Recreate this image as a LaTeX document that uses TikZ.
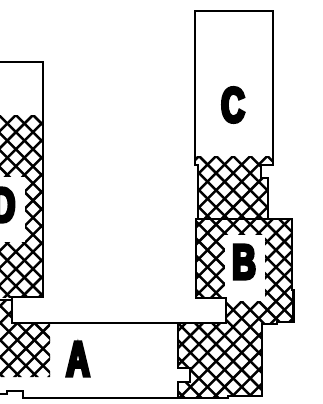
\documentclass[tikz,border=0pt]{standalone}
\usepackage{fontspec}
\newfontfamily\blk[FakeBold=6.5,FakeStretch=0.66]{Liberation Sans Bold}
\tikzset{
  x=0.75pt,y=-0.75pt,
  outline/.style={line width=2.1pt,line join=miter,line cap=rect},
  hatchline/.style={line width=1.9pt},
  letter/.style={inner sep=0pt,font=\blk\fontsize{37}{37}\selectfont}
}
% #1,#2: a lattice crossing; the lines fill the current clip
\newcommand{\hatchfrom}[2]{%
  \foreach \k in {-30,...,30}{%
    \draw[hatchline] ({#1+\k*17.1-450},{#2-450}) -- ({#1+\k*17.1+450},{#2+450});
    \draw[hatchline] ({#1+\k*17.1+450},{#2-450}) -- ({#1+\k*17.1-450},{#2+450});
  }}
\begin{document}
\begin{tikzpicture}
\useasboundingbox (0,0) rectangle (322,404);
\clip (0,0) rectangle (322,404);
% D hatching
\begin{scope}
  \clip (0,115) rectangle (43,297);
  \hatchfrom{33}{115}
\end{scope}
\fill[white] (0,177) rectangle (24.5,242);
% A hatching
\begin{scope}
  \clip (0,323) rectangle (50,377) (0,300) rectangle (12,323);
  \hatchfrom{43}{331.5}
\end{scope}
% C stem, B and right block hatching
\begin{scope}
  \clip (196,156) rectangle (272,165) (198,165) -- (261,165) -- (261,178) -- (268,178) -- (268,219)
     -- (292,219) -- (292,290) -- (293.5,290) -- (293.5,322) -- (277,322) -- (277,324) -- (262,324)
     -- (262,396) -- (228,396) -- (228,398) -- (178,398) -- (178,382) -- (190,382) -- (190,368)
     -- (178,368) -- (178,323) -- (226,323) -- (226,298) -- (196,298) -- (196,219) -- (198,219) -- cycle;
  \hatchfrom{199}{156}
\end{scope}
\fill[white] (225,235) rectangle (265,301);
% outlines
\draw[outline] (0,62) -- (43,62) -- (43,297) -- (12,297) -- (12,323) -- (178,323) -- (178,368)
   -- (190,368) -- (190,382) -- (178,382) -- (178,398) -- (228,398) -- (228,396) -- (262,396)
   -- (262,324) -- (277,324) -- (277,322) -- (293.5,322) -- (293.5,290) -- (292,290) -- (292,219)
   -- (196,219) -- (196,298) -- (226,298) -- (226,323) -- (178,323);
\draw[outline] (198,219) -- (198,165) -- (195,165) -- (195,11) -- (273,11) -- (273,165) -- (261,165)
   -- (261,178) -- (268,178) -- (268,219);
\draw[outline] (178,398) -- (23,398) -- (23,391) -- (7,391) -- (7,394) -- (0,394);
\draw[outline] (0,300) -- (12,300);
% letters
\node[letter] (la) at (78,359) {A};
\node[letter] (lb) at (244,262) {B};
\node[letter] (lc) at (233,105) {C};
\node[letter,anchor=east] (ld) at (15.5,205) {D};
\end{tikzpicture}
\end{document}
